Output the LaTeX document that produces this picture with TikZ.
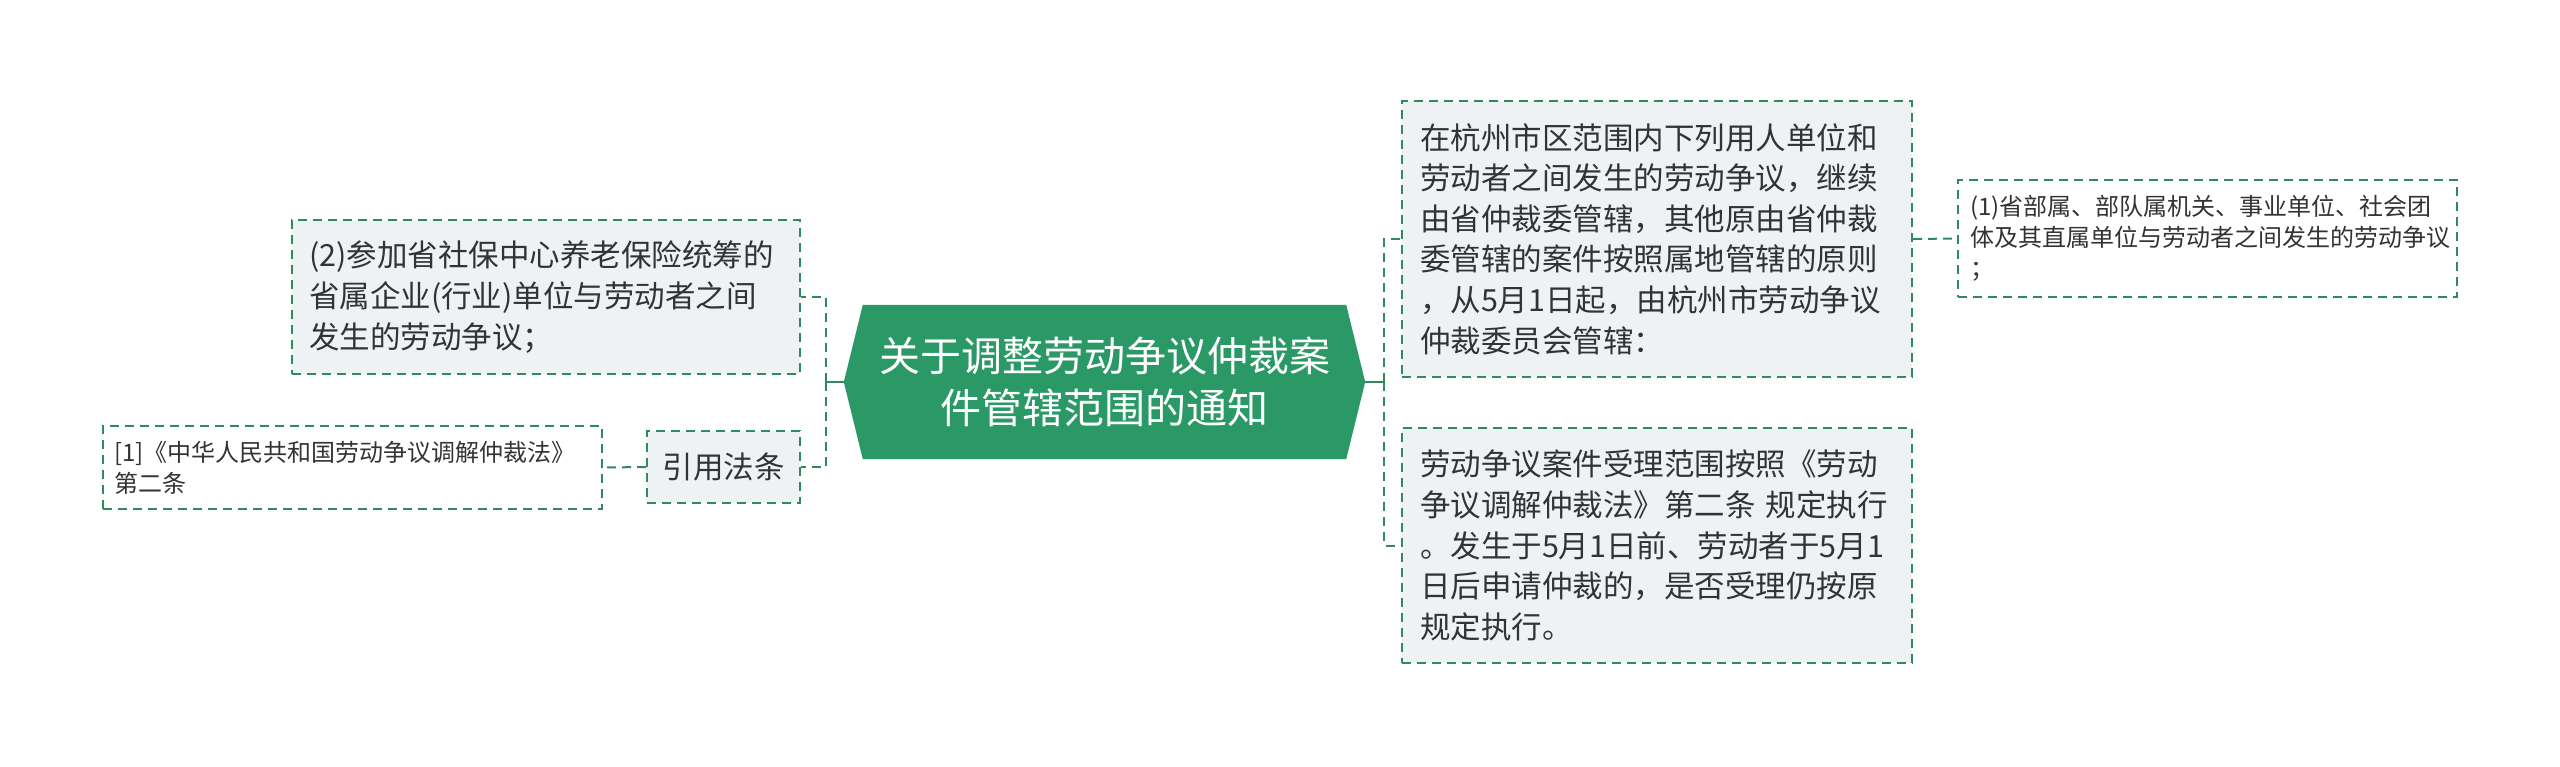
\documentclass[tikz,border=0pt]{standalone}
\usepackage{fontspec}
\setmainfont{Noto Sans CJK SC}
\usetikzlibrary{calc}
\definecolor{mgreen}{HTML}{2A9966}
\definecolor{lgreen}{HTML}{2E8B5E}
\definecolor{boxfill}{HTML}{EFF2F5}
\definecolor{txt}{HTML}{333333}
\begin{document}
\begin{tikzpicture}[x=1pt,y=-1pt,
  dline/.style={draw=lgreen, line width=2pt, dash pattern=on 9pt off 6pt},
  sline/.style={draw=lgreen, line width=2pt},
  midbox/.style={dline, fill=boxfill, text=txt, inner ysep=0pt, align=left,
    font=\fontsize{30.5}{40.6}\selectfont},
  smallbox/.style={dline, fill=white, text=txt, inner ysep=0pt, align=left,
    font=\fontsize{24}{31}\selectfont},
  centerbox/.style={text=white, inner sep=0pt, align=center,
    minimum width=521pt, minimum height=154pt,
    font=\fontsize{41}{52}\selectfont}
]
\useasboundingbox (0,0) rectangle (2560,766);

% central node
\node[centerbox] (c) at (1104.5,382) {};
\fill[mgreen] (c.west) -- ([xshift=19pt]c.north west) -- ([xshift=-19pt]c.north east)
  -- (c.east) -- ([xshift=-19pt]c.south east) -- ([xshift=19pt]c.south west) -- cycle;
\node[centerbox] (ct) at (c.center) {关于调整劳动争议仲裁案\\件管辖范围的通知};

% left side
\node[midbox, inner xsep=17pt, text width=474pt, minimum height=154pt] (l1) at (546,297)
  {(2)参加省社保中心养老保险统筹的\\省属企业(行业)单位与劳动者之间\\发生的劳动争议；};
\node[midbox, align=center, inner sep=0pt, minimum width=153pt, minimum height=72pt] (ref) at (723.5,467) {引用法条};
\node[smallbox, inner xsep=11pt, text width=477pt, minimum height=83pt] (law) at (352.5,467.5)
  {[1]《中华人民共和国劳动争议调解仲裁法》\\第二条};

% right side
\node[midbox, inner xsep=18pt, text width=474pt, minimum height=276pt] (r1) at (1657,239)
  {在杭州市区范围内下列用人单位和\\劳动者之间发生的劳动争议，继续\\由省仲裁委管辖，其他原由省仲裁\\委管辖的案件按照属地管辖的原则\\，从5月1日起，由杭州市劳动争议\\仲裁委员会管辖：};
\node[midbox, inner xsep=18pt, text width=474pt, minimum height=235pt] (r2) at (1657,545.5)
  {劳动争议案件受理范围按照《劳动\\争议调解仲裁法》第二条 规定执行\\。发生于5月1日前、劳动者于5月1\\日后申请仲裁的，是否受理仍按原\\规定执行。};
\node[smallbox, inner xsep=12pt, text width=475pt, minimum height=117pt] (far) at (2207.5,238.5)
  {(1)省部属、部队属机关、事业单位、社会团\\体及其直属单位与劳动者之间发生的劳动争议\\；};

% connectors
\coordinate (busR) at (1384,382);
\coordinate (busL) at (826,382);
\draw[sline] (c.east) -- (busR);
\draw[dline] (busR) |- (r1.west);
\draw[dline] (busR) |- (r2.west);
\draw[sline] (c.west) -- (busL);
\draw[dline] (busL) |- (l1.east);
\draw[dline] (busL) |- (ref.east);
\draw[dline] (ref.west) -- (law.east);
\draw[dline] (r1.east) -- (far.west);
\end{tikzpicture}
\end{document}
